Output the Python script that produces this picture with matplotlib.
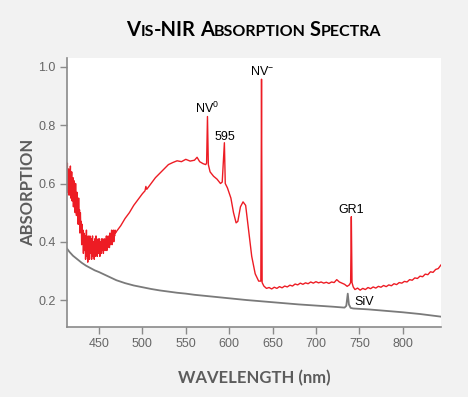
import numpy as np
import matplotlib
matplotlib.use("Agg")
import matplotlib.pyplot as plt

plt.rcParams['mathtext.fontset'] = 'custom'
plt.rcParams['mathtext.rm'] = 'Liberation Sans'

# ---- Red spectrum: noisy blue end (413-469 nm, 0.5 nm steps) ----
red_noisy_abs = [
    0.61, 0.67, 0.57, 0.63, 0.65, 0.56, 0.62, 0.59, 0.66, 0.55, 0.60,
    0.64, 0.54, 0.58, 0.62, 0.52, 0.61, 0.55, 0.57, 0.50, 0.60, 0.53,
    0.49, 0.57, 0.51, 0.54, 0.46, 0.55, 0.48, 0.51, 0.43, 0.50, 0.45,
    0.47, 0.39, 0.46, 0.41, 0.44, 0.36, 0.43, 0.39, 0.37, 0.42, 0.34,
    0.40, 0.44, 0.35, 0.38, 0.33, 0.42, 0.37, 0.40, 0.34, 0.42, 0.38,
    0.36, 0.41, 0.34, 0.39, 0.42, 0.35, 0.40, 0.37, 0.34, 0.41, 0.38,
    0.35, 0.42, 0.38, 0.40, 0.35, 0.39, 0.41, 0.36, 0.38, 0.41, 0.35,
    0.40, 0.38, 0.36, 0.41, 0.39, 0.37, 0.41, 0.36, 0.39, 0.38, 0.41,
    0.37, 0.40, 0.39, 0.42, 0.37, 0.40, 0.38, 0.42, 0.39, 0.41, 0.38,
    0.43, 0.39, 0.41, 0.40, 0.44, 0.39, 0.42, 0.41, 0.44, 0.40, 0.43,
    0.42, 0.44, 0.43,
]
red_noisy_wl = list(np.linspace(413, 469, len(red_noisy_abs)))

# ---- Red spectrum: broad bands and sharp lines ----
red_main_wl = [470, 475, 480, 485, 490, 495, 500, 503, 504, 505, 510, 515, 520,
               525, 530, 535, 540, 545, 550, 555, 560, 563, 566, 570, 573, 574,
               575, 576, 578, 582, 586, 590, 592, 594.5, 595.5, 598, 602, 605,
               608, 610, 613, 616, 619, 622, 626, 630, 634, 636.5, 637.3, 638]
red_main_abs = [0.435, 0.455, 0.48, 0.50, 0.525, 0.545, 0.565, 0.575, 0.59, 0.58,
                0.60, 0.62, 0.635, 0.65, 0.665, 0.672, 0.678, 0.675, 0.683, 0.677,
                0.68, 0.69, 0.675, 0.668, 0.665, 0.67, 0.83, 0.665, 0.64, 0.625,
                0.615, 0.60, 0.605, 0.74, 0.60, 0.585, 0.55, 0.50, 0.465, 0.47,
                0.52, 0.537, 0.525, 0.45, 0.35, 0.29, 0.265, 0.265, 0.958, 0.26]

# ---- Red spectrum: flat red end with GR1 ----
red_tail_wl = [640, 643, 646, 649, 652, 655, 658, 661, 664, 667, 670, 673, 676,
               679, 682, 685, 688, 691, 694, 697, 700, 703, 706, 709, 712, 715,
               718, 721, 724, 727, 730, 733, 736, 738.5, 740, 740.8, 741.6, 743,
               745, 748, 751, 754, 757, 760, 763, 766, 769, 772, 775, 778, 781,
               784, 787, 790, 793, 796, 799, 802, 805, 808, 811, 814, 817, 820,
               823, 826, 829, 832, 835, 838, 841, 844]
red_tail_abs = [0.248, 0.240, 0.243, 0.238, 0.244, 0.240, 0.246, 0.242, 0.248,
                0.245, 0.251, 0.248, 0.255, 0.252, 0.258, 0.254, 0.259, 0.256,
                0.262, 0.258, 0.263, 0.259, 0.262, 0.258, 0.261, 0.257, 0.262,
                0.260, 0.270, 0.262, 0.258, 0.254, 0.247, 0.252, 0.26, 0.486,
                0.26, 0.245, 0.236, 0.241, 0.234, 0.240, 0.236, 0.243, 0.239,
                0.245, 0.241, 0.247, 0.244, 0.250, 0.246, 0.252, 0.249, 0.256,
                0.253, 0.260, 0.258, 0.264, 0.262, 0.270, 0.268, 0.276, 0.274,
                0.282, 0.280, 0.289, 0.287, 0.297, 0.295, 0.305, 0.308, 0.320]

red_wl = red_noisy_wl + red_main_wl + red_tail_wl
red_abs = red_noisy_abs + red_main_abs + red_tail_abs

# ---- Grey spectrum (with SiV line) ----
grey_wl = [413, 416, 420, 425, 430, 435, 440, 445, 450, 455, 460, 465, 470, 475,
           480, 485, 490, 500, 510, 520, 530, 540, 550, 560, 570, 580, 590, 600,
           620, 640, 660, 680, 700, 720, 733, 735, 736.7, 738, 740, 743, 760,
           780, 800, 820, 844]
grey_abs = [0.377, 0.365, 0.352, 0.34, 0.328, 0.318, 0.31, 0.302, 0.296, 0.289,
            0.282, 0.275, 0.268, 0.263, 0.258, 0.254, 0.25, 0.244, 0.238, 0.233,
            0.229, 0.225, 0.222, 0.218, 0.215, 0.212, 0.209, 0.206, 0.2, 0.195,
            0.19, 0.185, 0.181, 0.177, 0.174, 0.18, 0.222, 0.185, 0.173, 0.171,
            0.168, 0.163, 0.158, 0.152, 0.143]

# ---- Peak labels ----
peak_text = ['NV$^{0}$', '595', 'NV$^{-}$', 'GR1']
peak_wl = [575, 595, 637.6, 740.5]
peak_abs = [0.841, 0.749, 0.972, 0.50]

xticks = [450, 500, 550, 600, 650, 700, 750, 800]
yticks = [0.2, 0.4, 0.6, 0.8, 1.0]

axis_grey = '#5c5c5c'
label_font = 'Lato'

fig = plt.figure(figsize=(4.68, 3.97), dpi=100, facecolor='#f2f2f2')
ax = fig.add_axes([0.143, 0.176, 0.799, 0.678])
ax.set_facecolor('white')

ax.plot(grey_wl, grey_abs, color='#7a7a7a', linewidth=1.3)
ax.plot(red_wl, red_abs, color='#ed1c24', linewidth=1.0)

for t, x, y in zip(peak_text, peak_wl, peak_abs):
    ax.text(x, y, t, ha='center', va='baseline', fontsize=9,
            family='Liberation Sans', color='black')
ax.text(744, 0.183, 'SiV', ha='left', va='baseline', fontsize=9,
        family='Liberation Sans', color='black')

ax.set_xlim(413, 844)
ax.set_ylim(0.107, 1.031)
ax.set_xticks(xticks)
ax.set_yticks(yticks)
ax.set_yticklabels([f'{v:.1f}' for v in yticks])

for s in ['top', 'right']:
    ax.spines[s].set_visible(False)
for s in ['left', 'bottom']:
    ax.spines[s].set_color('#8a8a8a')
    ax.spines[s].set_linewidth(1.2)
ax.tick_params(direction='out', length=5, width=1, color='#8a8a8a',
               labelcolor='#666666', labelsize=9, pad=3)
for lab in ax.get_xticklabels() + ax.get_yticklabels():
    lab.set_family('Liberation Sans')

ax.set_xlabel('WAVELENGTH (nm)', fontsize=12, fontweight='bold',
              family=label_font, color=axis_grey, labelpad=14)
ax.set_ylabel('ABSORPTION', fontsize=12, fontweight='bold',
              family=label_font, color=axis_grey, labelpad=2)

# ---- Title in small caps, built from pieces ----
pieces = [('V', 14.5), ('IS', 11.5), ('-NIR', 14.5), (' ', 11.5), ('A', 14.5),
          ('BSORPTION', 11.5), (' ', 11.5), ('S', 14.5), ('PECTRA', 11.5)]
fig.canvas.draw()
renderer = fig.canvas.get_renderer()
objs = []
widths = []
for txt, size in pieces:
    t = fig.text(0, 0, txt if txt != ' ' else 'I', fontsize=size,
                 fontweight='bold', family=label_font, color='black')
    w = t.get_window_extent(renderer).width
    if txt == ' ':
        w = w * 0.9
        t.set_visible(False)
    objs.append(t)
    widths.append(w)
fig_w = fig.get_figwidth() * fig.dpi
x = 254 - sum(widths) / 2
for t, w in zip(objs, widths):
    t.set_position((x / fig_w, 0.909))
    t.set_va('baseline')
    x += w

fig.savefig('out.png', dpi=100, facecolor=fig.get_facecolor())
